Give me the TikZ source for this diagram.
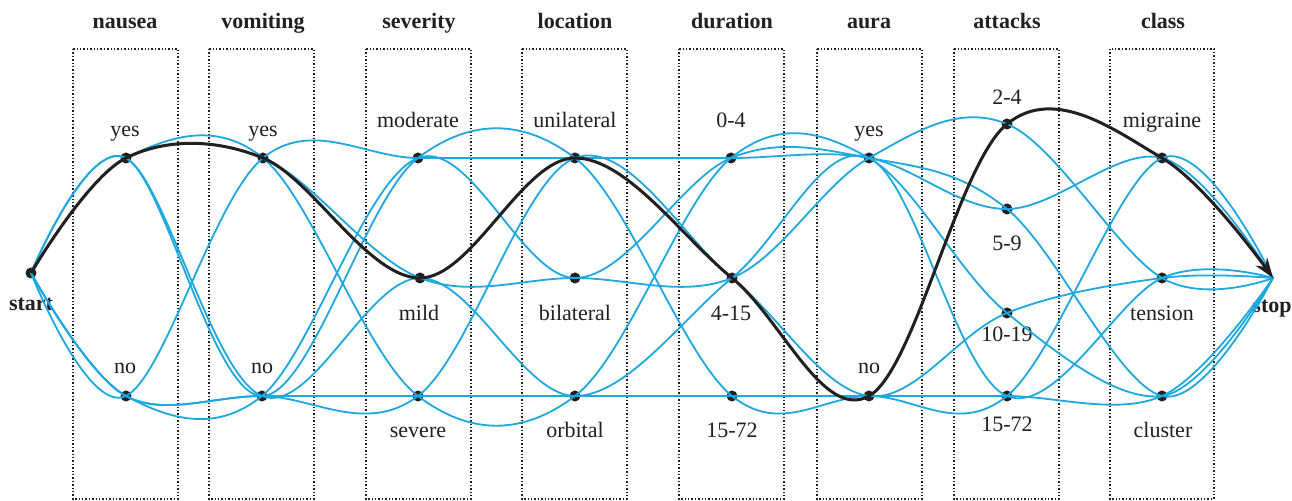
\documentclass[tikz,border=0pt]{standalone}
\usepackage{fontspec}
\setmainfont{Liberation Serif}
\usetikzlibrary{arrows.meta}
\definecolor{cyanline}{RGB}{30,168,224}
\definecolor{ink}{RGB}{35,31,32}
\begin{document}
\begin{tikzpicture}[x=0.5pt,y=-0.5pt,
  dot/.style={circle,fill=ink,inner sep=0pt,minimum size=5.5pt},
  colbox/.style={draw=ink,line width=0.7pt,dash pattern=on 0.7pt off 1pt},
  hdr/.style={font=\fontsize{11}{13}\selectfont\bfseries,text=ink,anchor=base,inner sep=0pt},
  lbl/.style={font=\fontsize{11}{13}\selectfont,text=ink,anchor=base,inner sep=0pt},
  casepath/.style={draw=cyanline,line width=0.9pt},
  bestpath/.style={draw=ink,line width=1.5pt}]
\useasboundingbox[fill=white] (0,0) rectangle (1292,501);
% column boxes
\draw[colbox] (73,49) rectangle (178,499);
\draw[colbox] (209,49) rectangle (314,499);
\draw[colbox] (366,49) rectangle (471,499);
\draw[colbox] (522,49) rectangle (627,499);
\draw[colbox] (679,49) rectangle (784,499);
\draw[colbox] (817,49) rectangle (922,499);
\draw[colbox] (954,49) rectangle (1059,499);
\draw[colbox] (1110,49) rectangle (1214,499);
% headers
\node[hdr] (h1) at (125,29) {nausea};
\node[hdr] (h2) at (263,29) {vomiting};
\node[hdr] (h3) at (419,29) {severity};
\node[hdr] (h4) at (575,29) {location};
\node[hdr] (h5) at (732,29) {duration};
\node[hdr] (h6) at (869,29) {aura};
\node[hdr] (h7) at (1007,29) {attacks};
\node[hdr] (h8) at (1163,29) {class};
% state dots
\node[dot] (st) at (31,273) {};
\node[dot] (ny) at (126,158) {};
\node[dot] (nn) at (126,396) {};
\node[dot] (vy) at (263,158) {};
\node[dot] (vn) at (262,396) {};
\node[dot] (smod) at (418,158) {};
\node[dot] (smild) at (420,278) {};
\node[dot] (ssev) at (418,396) {};
\node[dot] (luni) at (575,158) {};
\node[dot] (lbi) at (575,278) {};
\node[dot] (lorb) at (575,396) {};
\node[dot] (d04) at (731,158) {};
\node[dot] (d415) at (732,278) {};
\node[dot] (d1572) at (732,396) {};
\node[dot] (ay) at (869,158) {};
\node[dot] (an) at (869,396) {};
\node[dot] (a24) at (1007,124) {};
\node[dot] (a59) at (1007,209) {};
\node[dot] (a1019) at (1007,313) {};
\node[dot] (a1572) at (1007,396) {};
\node[dot] (cmig) at (1162,158) {};
\node[dot] (cten) at (1162,278) {};
\node[dot] (cclu) at (1162,396) {};
\coordinate (sp) at (1273,278);
% state labels
\node[hdr] (lst) at (31,311) {start};
\node[hdr] (lsp) at (1272,313) {stop};
\node[lbl] (lny) at (125,137) {yes};
\node[lbl] (lnn) at (125,374) {no};
\node[lbl] (lvy) at (263,137) {yes};
\node[lbl] (lvn) at (262,374) {no};
\node[lbl] (lsmod) at (418,128) {moderate};
\node[lbl] (lsmild) at (419,321) {mild};
\node[lbl] (lssev) at (418,438) {severe};
\node[lbl] (lluni) at (575,128) {unilateral};
\node[lbl] (llbi) at (575,321) {bilateral};
\node[lbl] (llorb) at (575,438) {orbital};
\node[lbl] (ld04) at (731,128) {0-4};
\node[lbl] (ld415) at (731,321) {4-15};
\node[lbl] (ld1572) at (732,438) {15-72};
\node[lbl] (lay) at (869,137) {yes};
\node[lbl] (lan) at (869,374) {no};
\node[lbl] (la24) at (1007,105) {2-4};
\node[lbl] (la59) at (1007,251) {5-9};
\node[lbl] (la1019) at (1007,342) {10-19};
\node[lbl] (la1572) at (1007,432) {15-72};
\node[lbl] (lcmig) at (1162,128) {migraine};
\node[lbl] (lcten) at (1162,321) {tension};
\node[lbl] (lcclu) at (1163,438) {cluster};
% case paths
\draw[casepath] plot[smooth,tension=0.6] coordinates {(st.center) (nn.center) (vn.center) (ssev.center) (lorb.center) (d1572.center) (an.center) (a1572.center) (cclu.center) (sp)};
\draw[casepath] plot[smooth,tension=0.6] coordinates {(st.center) (nn.center) (vy.center) (smod.center) (luni.center) (d04.center) (ay.center) (a59.center) (cmig.center) (sp)};
\draw[casepath] plot[smooth,tension=0.6] coordinates {(st.center) (ny.center) (vn.center) (smod.center) (luni.center) (d1572.center) (an.center) (a1572.center) (cmig.center) (sp)};
\draw[casepath] plot[smooth,tension=0.6] coordinates {(st.center) (ny.center) (vy.center) (smild.center) (lbi.center) (d415.center) (ay.center) (a24.center) (cten.center) (sp)};
\draw[casepath] plot[smooth,tension=0.6] coordinates {(st.center) (ny.center) (vy.center) (ssev.center) (lorb.center) (d04.center) (ay.center) (a1019.center) (cclu.center) (sp)};
\draw[casepath] plot[smooth,tension=0.6] coordinates {(st.center) (nn.center) (vn.center) (ssev.center) (luni.center) (d415.center) (an.center) (a1019.center) (cten.center) (sp)};
\draw[casepath] plot[smooth,tension=0.6] coordinates {(st.center) (nn.center) (vn.center) (smod.center) (lbi.center) (d04.center) (ay.center) (a59.center) (cclu.center) (sp)};
\draw[casepath] plot[smooth,tension=0.6] coordinates {(st.center) (ny.center) (vn.center) (smild.center) (lorb.center) (d415.center) (ay.center) (a1572.center) (cten.center) (sp)};
% highlighted path
\draw[bestpath,-{Stealth[length=10pt,width=7pt]}] plot[smooth,tension=0.6] coordinates {(st.center) (ny.center) (vy.center) (smild.center) (luni.center) (d415.center) (an.center) (a24.center) (cmig.center) (sp)};
\end{tikzpicture}
\end{document}
